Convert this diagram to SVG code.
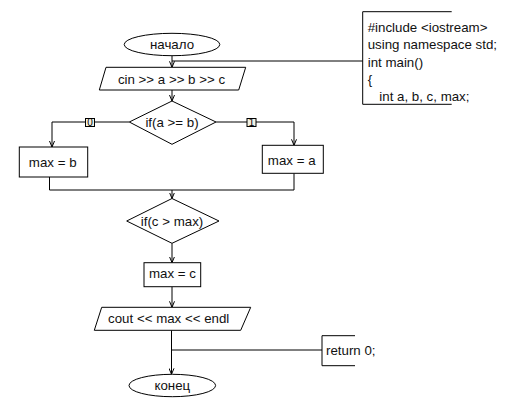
<svg xmlns="http://www.w3.org/2000/svg" width="519" height="416" viewBox="0 0 519 416">
<style>
.s{fill:#fff;stroke:#000;stroke-width:1}
.o{fill:none;stroke:#000;stroke-width:1}
.t{font-family:"Liberation Sans",Arial,sans-serif;font-size:13.3px;fill:#111}
.c{text-anchor:middle}
.l{fill:#f2f2e4;stroke:#000;stroke-width:1}
.lt{font-family:"Liberation Sans",Arial,sans-serif;font-size:10px;fill:#000;text-anchor:middle}
</style>
<defs>
<marker id="arr" markerUnits="userSpaceOnUse" viewBox="0 0 6 6" refX="6" refY="3" markerWidth="6" markerHeight="6" orient="auto">
<path d="M0,0.5 L6,3 L0,5.5" fill="none" stroke="#000" stroke-width="1"/>
</marker>
</defs>
<rect width="519" height="416" fill="#fff"/>
<g id="connectors">
<line class="o" x1="172" y1="55.7" x2="172" y2="67.3" marker-end="url(#arr)"/>
<line class="o" x1="172" y1="61" x2="362.7" y2="61"/>
<line class="o" x1="172" y1="90" x2="172" y2="101" marker-end="url(#arr)"/>
<polyline class="o" points="129.3,122 52,122 52,147" marker-end="url(#arr)"/>
<polyline class="o" points="216,122 294,122 294,145.3" marker-end="url(#arr)"/>
<polyline class="o" points="49.5,177 49.5,190 294,190 294,173.3"/>
<line class="o" x1="172" y1="190" x2="172" y2="198.5" marker-end="url(#arr)"/>
<line class="o" x1="172" y1="243.3" x2="172" y2="262.7" marker-end="url(#arr)"/>
<line class="o" x1="172" y1="286.7" x2="172" y2="307.3" marker-end="url(#arr)"/>
<line class="o" x1="171.5" y1="330.3" x2="171.5" y2="374.3" marker-end="url(#arr)"/>
<line class="o" x1="171.5" y1="350" x2="322" y2="350"/>
<g id="label-0"><rect class="l" x="85.5" y="118.5" width="9" height="8"/><text class="lt" x="90" y="126">0</text></g>
<g id="label-1"><rect class="l" x="247" y="118.5" width="9" height="8"/><text class="lt" x="251.5" y="126">1</text></g>
</g>
<g id="start">
<ellipse class="s" cx="172" cy="44.5" rx="47.8" ry="11.2"/>
<text class="t c" x="172" y="49">начало</text>
</g>
<g id="input">
<polygon class="s" points="106,67.3 245.7,67.3 238.7,90 99.3,90"/>
<text class="t c" x="171.5" y="83.5">cin &gt;&gt; a &gt;&gt; b &gt;&gt; c</text>
</g>
<g id="cond1">
<polygon class="s" points="172,101 216,122 172,144.3 129.3,122"/>
<text class="t c" x="172" y="127">if(a &gt;= b)</text>
</g>
<g id="maxb">
<rect class="s" x="19.3" y="147" width="68.4" height="30"/>
<text class="t c" x="52.7" y="167">max = b</text>
</g>
<g id="maxa">
<rect class="s" x="262.3" y="145.3" width="61" height="28"/>
<text class="t c" x="291.7" y="164.5">max = a</text>
</g>
<g id="cond2">
<polygon class="s" points="172,198.5 219,221 172,243.3 126.7,221"/>
<text class="t c" x="172" y="226">if(c &gt; max)</text>
</g>
<g id="maxc">
<rect class="s" x="144" y="262.7" width="56.7" height="24"/>
<text class="t c" x="172.5" y="278">max = c</text>
</g>
<g id="output">
<polygon class="s" points="101.7,307.3 250.7,307.3 240.7,330.3 94.3,330.3"/>
<text class="t c" x="168.7" y="323">cout &lt;&lt; max &lt;&lt; endl</text>
</g>
<g id="end">
<ellipse class="s" cx="172.3" cy="385.5" rx="43.3" ry="11.2"/>
<text class="t c" x="172.3" y="390">конец</text>
</g>
<g id="comment">
<path class="o" d="M451.7,11.7 H362.7 V104.3 H451.7"/>
<text class="t" x="367.7" y="31.7">#include &lt;iostream&gt;</text>
<text class="t" x="367.7" y="49.3">using namespace std;</text>
<text class="t" x="367.7" y="66.7">int main()</text>
<text class="t" x="367.7" y="84">{</text>
<text class="t" x="379.3" y="100.7">int a, b, c, max;</text>
</g>
<g id="return">
<path class="o" d="M355,335.7 H322 V365.7 H355"/>
<text class="t" x="326" y="355">return 0;</text>
</g>
</svg>
